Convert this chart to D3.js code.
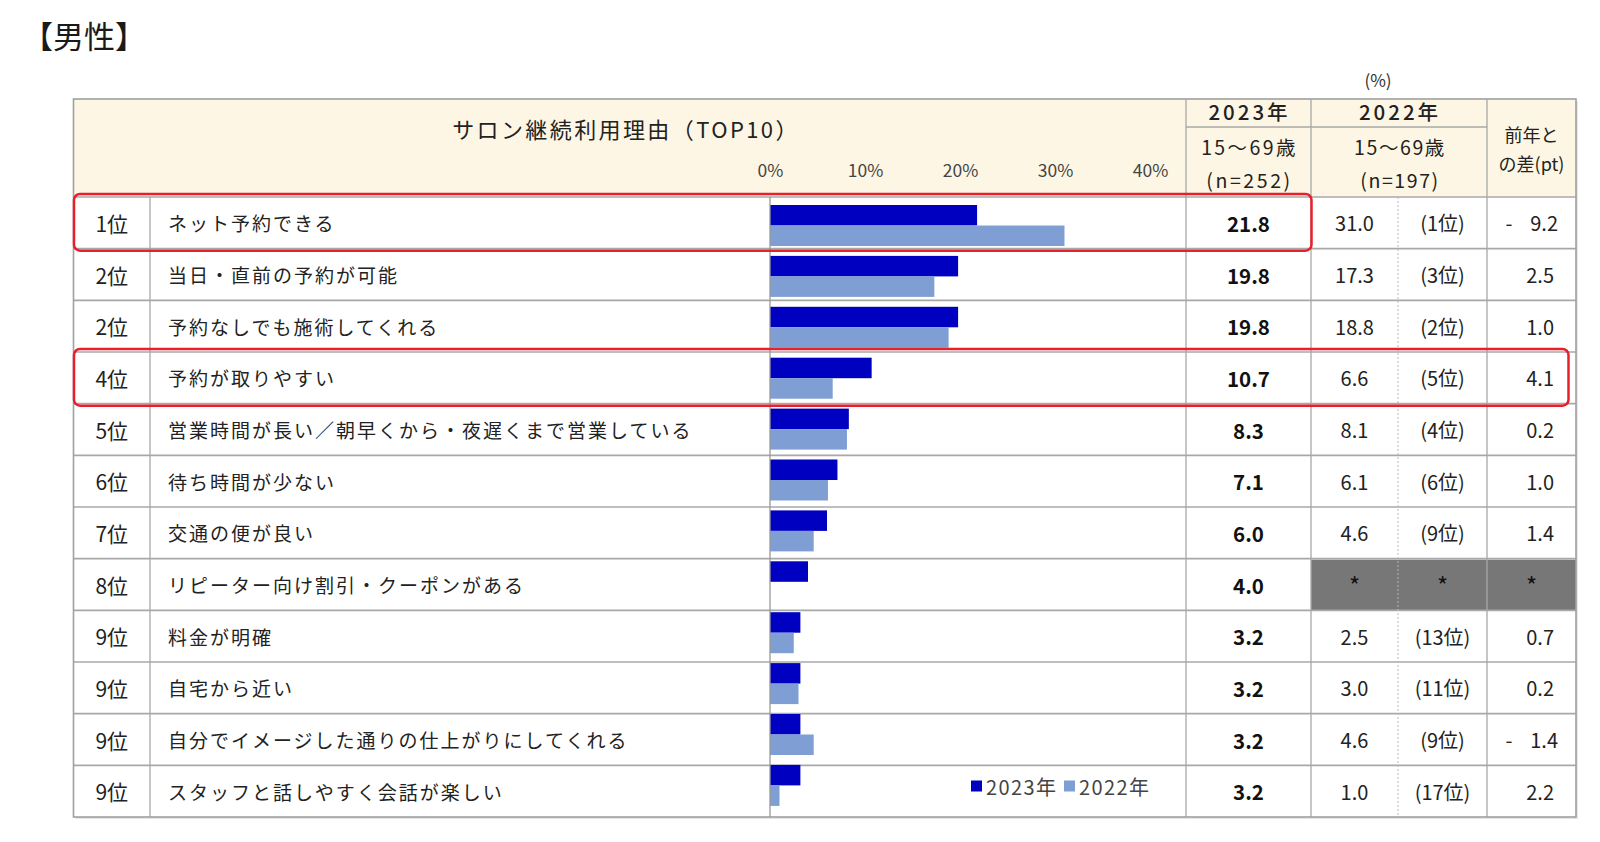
<!DOCTYPE html>
<html><head><meta charset="utf-8">
<script src="https://cdn.jsdelivr.net/npm/d3@7"></script>
<style>
html,body{margin:0;padding:0;background:#fff;}
svg{display:block;font-family:"Noto Sans CJK JP","Noto Sans",sans-serif;}
</style></head>
<body><svg id="c" width="1600" height="842"></svg>
<script>
// ---- data ----
const ranks = ["1位","2位","2位","4位","5位","6位","7位","8位","9位","9位","9位","9位"];
const reasons = [
  "ネット予約できる",
  "当日・直前の予約が可能",
  "予約なしでも施術してくれる",
  "予約が取りやすい",
  "営業時間が長い／朝早くから・夜遅くまで営業している",
  "待ち時間が少ない",
  "交通の便が良い",
  "リピーター向け割引・クーポンがある",
  "料金が明確",
  "自宅から近い",
  "自分でイメージした通りの仕上がりにしてくれる",
  "スタッフと話しやすく会話が楽しい"
];
const v2023 = [21.8,19.8,19.8,10.7,8.3,7.1,6.0,4.0,3.2,3.2,3.2,3.2];
const v2022 = [31.0,17.3,18.8,6.6,8.1,6.1,4.6,null,2.5,3.0,4.6,1.0];
const rank2022 = ["1位","3位","2位","5位","4位","6位","9位",null,"13位","11位","9位","17位"];
const diffs = [-9.2,2.5,1.0,4.1,0.2,1.0,1.4,null,0.7,0.2,-1.4,2.2];
const ticks = [0,10,20,30,40];
const seriesNames = ["2023年","2022年"];
const highlightRows = [0,3];

// ---- layout ----
const svg = d3.select("#c");
const L = 73.5, R = 1576, HT = 99, HB = 197, BB = 817;
const cRank = 150, c23 = 1186, c22 = 1311, cDot = 1398, cDiff = 1487;
const colors = {"2023年":"#0000c0","2022年":"#7f9fd4"};
const grid = "#a8a8a8";

const x = d3.scaleLinear().domain([0,40]).range([770,1150]);
const y = d3.scaleBand().domain(d3.range(reasons.length)).range([HB,BB]);
const yBar = d3.scaleBand().domain(d3.range(reasons.length)).range([205, 205 + 12*50.9]);
const yIn = d3.scaleBand().domain(seriesNames).range([0, 41]);

// title
svg.append("text").attr("x",22).attr("y",48).attr("font-size",31).attr("fill","#1a1a1a").text("【男性】");
svg.append("text").attr("x",1378).attr("y",87).attr("font-size",17).attr("fill","#333").attr("text-anchor","middle").text("(%)");

// shadow + header bg
svg.append("rect").attr("x",L+2).attr("y",HT+2).attr("width",R-L).attr("height",BB-HT).attr("fill","#e6e6e6");
svg.append("rect").attr("x",L).attr("y",HT).attr("width",R-L).attr("height",BB-HT).attr("fill","#fff");
svg.append("rect").attr("x",L).attr("y",HT).attr("width",R-L).attr("height",HB-HT).attr("fill","#fdf6e4");

// gray cells (no 2022 data)
v2022.forEach((v,i)=>{
  if(v===null){
    svg.append("rect").attr("x",c22).attr("y",y(i)+1).attr("width",R-c22).attr("height",y.bandwidth()-1).attr("fill","#777");
  }
});

// row lines
const rowLines = d3.range(1,reasons.length);
svg.selectAll(".rl").data(rowLines).enter().append("line")
  .attr("x1",L).attr("x2",R).attr("y1",d=>y(d)).attr("y2",d=>y(d))
  .attr("stroke",grid).attr("stroke-width",1.6);
svg.append("line").attr("x1",L).attr("x2",R).attr("y1",HB).attr("y2",HB).attr("stroke",grid).attr("stroke-width",1.6);

// vertical lines
[[cRank,HB,BB],[c23,HT,BB],[c22,HT,BB],[cDiff,HT,BB]].forEach(([xx,a,b])=>{
  svg.append("line").attr("x1",xx).attr("x2",xx).attr("y1",a).attr("y2",b).attr("stroke",grid).attr("stroke-width",1.3);
});
svg.append("line").attr("x1",cDot).attr("x2",cDot).attr("y1",HB).attr("y2",BB).attr("stroke","#b8b8b8").attr("stroke-width",1).attr("stroke-dasharray","2,2");
svg.append("line").attr("x1",c23).attr("x2",cDiff).attr("y1",127).attr("y2",127).attr("stroke",grid).attr("stroke-width",1.3);

// outer border
svg.append("rect").attr("x",L).attr("y",HT).attr("width",R-L).attr("height",BB-HT).attr("fill","none").attr("stroke","#a0a0a0").attr("stroke-width",1.6);

// header texts
const hdr = svg.append("g").attr("fill","#222").attr("text-anchor","middle").attr("dominant-baseline","central");
hdr.append("text").attr("x",626).attr("y",128).attr("font-size",22).attr("letter-spacing",2.4).text("サロン継続利用理由（TOP10）");
hdr.append("text").attr("x",(c23+c22)/2+1).attr("y",111).attr("font-size",20.5).attr("letter-spacing",3).attr("font-weight",500).text("2023年");
hdr.append("text").attr("x",(c23+c22)/2+1).attr("y",146).attr("font-size",19.5).attr("letter-spacing",2.4).text("15〜69歳");
hdr.append("text").attr("x",(c23+c22)/2+1).attr("y",179).attr("font-size",19.5).attr("letter-spacing",2.6).text("(n=252)");
hdr.append("text").attr("x",(c22+cDiff)/2+1).attr("y",111).attr("font-size",20.5).attr("letter-spacing",3).attr("font-weight",500).text("2022年");
hdr.append("text").attr("x",(c22+cDiff)/2+1).attr("y",146).attr("font-size",19.5).attr("letter-spacing",1.6).text("15〜69歳");
hdr.append("text").attr("x",(c22+cDiff)/2+1).attr("y",179).attr("font-size",19.5).attr("letter-spacing",1.6).text("(n=197)");
hdr.append("text").attr("x",(cDiff+R)/2).attr("y",134).attr("font-size",18).text("前年と");
hdr.append("text").attr("x",(cDiff+R)/2).attr("y",163).attr("font-size",18).text("の差(pt)");

// axis ticks
const ax = svg.append("g").attr("transform","translate(0,169)")
  .call(d3.axisTop(x).tickValues(ticks).tickSize(0).tickPadding(0).tickFormat(d=>d+"%"));
ax.select(".domain").remove();
ax.selectAll("text").attr("font-size",17.5).attr("fill","#444").attr("dominant-baseline","central")
  .attr("font-family","\"Noto Sans CJK JP\",sans-serif");

// bars
const rows = svg.append("g");
reasons.forEach((r,i)=>{
  const g = rows.append("g").attr("transform",`translate(0,${yBar(i)})`);
  [["2023年",v2023[i]],["2022年",v2022[i]]].forEach(([s,v])=>{
    if(v===null) return;
    g.append("rect").attr("x",x(0)).attr("y",yIn(s)).attr("width",x(v)-x(0)).attr("height",yIn.bandwidth()).attr("fill",colors[s]);
  });
});
// axis zero line
svg.append("line").attr("x1",x(0)).attr("x2",x(0)).attr("y1",HB).attr("y2",BB).attr("stroke","#999").attr("stroke-width",1.3);

// row texts
const tx = svg.append("g").attr("dominant-baseline","central").attr("fill","#222");
reasons.forEach((r,i)=>{
  const cy = y(i)+y.bandwidth()/2;
  tx.append("text").attr("x",(L+cRank)/2).attr("y",cy).attr("text-anchor","middle").attr("font-size",21).text(ranks[i]);
  tx.append("text").attr("x",168).attr("y",cy).attr("font-size",19).attr("letter-spacing",2.0).text(r);
  tx.append("text").attr("x",(c23+c22)/2).attr("y",cy).attr("text-anchor","middle").attr("font-size",20.5).attr("font-weight","bold").attr("fill","#111").text(v2023[i].toFixed(1));
  if(v2022[i]===null){
    [ (c22+cDot)/2, (cDot+cDiff)/2, (cDiff+R)/2 ].forEach(cx=>{
      tx.append("text").attr("x",cx).attr("y",cy).attr("text-anchor","middle").attr("font-size",24).attr("fill","#111").text("*");
    });
  } else {
    tx.append("text").attr("x",(c22+cDot)/2).attr("y",cy).attr("text-anchor","middle").attr("font-size",20).text(v2022[i].toFixed(1));
    tx.append("text").attr("x",(cDot+cDiff)/2).attr("y",cy).attr("text-anchor","middle").attr("font-size",20).text("("+rank2022[i]+")");
    const d = diffs[i];
    tx.append("text").attr("x", d<0 ? 1558 : 1554).attr("y",cy).attr("text-anchor","end").attr("font-size",20)
      .attr("xml:space","preserve").text(d<0 ? "-    "+Math.abs(d).toFixed(1) : d.toFixed(1));
  }
});

// legend
const lg = svg.append("g").attr("transform","translate(971,786)");
let lx = 0;
seriesNames.forEach((s,k)=>{
  lg.append("rect").attr("x",lx).attr("y",-5.5).attr("width",11).attr("height",11).attr("fill",colors[s]);
  lg.append("text").attr("x",lx+15).attr("y",0).attr("dominant-baseline","central").attr("font-size",20).attr("letter-spacing",1.4).attr("fill","#444").text(s);
  lx += 93;
});

// highlight boxes
const hl = [{row:0,x1:L,x2:c22},{row:3,x1:L,x2:1568}];
hl.forEach(h=>{
  svg.append("rect").attr("x",h.x1+0.5).attr("y",y(h.row)-3).attr("width",h.x2-h.x1).attr("height",y.bandwidth()+5)
    .attr("rx",6).attr("fill","none").attr("stroke","#e8202c").attr("stroke-width",2.5);
});
</script></body></html>
